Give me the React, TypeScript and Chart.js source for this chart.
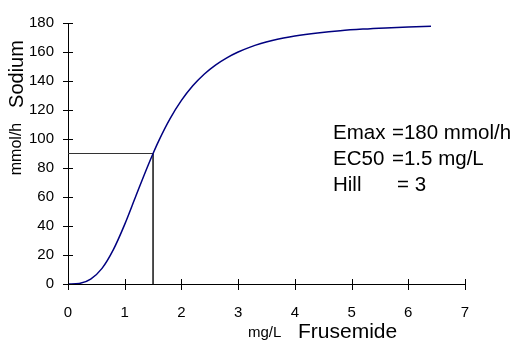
import React, { useEffect, useRef } from "react";
import { Chart, registerables } from "chart.js";

Chart.register(...registerables);

// Frusemide concentration (mg/L) and sodium excretion rate (mmol/h)
const concentration = [0, 0.2, 0.4, 0.6, 0.8, 1.0, 1.2, 1.4, 1.5, 1.6, 1.8, 2.0, 2.2, 2.4, 2.6, 2.8, 3.0, 3.2, 3.4, 3.6, 3.8, 4.0, 4.4, 4.8, 5.2, 5.6, 6.0, 6.4];
const sodiumRate = [0, 0.4, 3.4, 10.8, 23.7, 41.1, 61.0, 80.7, 90.0, 98.7, 114.0, 126.6, 136.7, 144.7, 151.0, 156.0, 160.0, 163.2, 165.8, 167.9, 169.6, 171.0, 173.1, 174.7, 175.8, 176.6, 177.2, 177.7];

// Half-maximal effect guide lines
const ec50 = 1.5;
const halfEffect = 90;

const xTicks = [0, 1, 2, 3, 4, 5, 6, 7];
const yTicks = [0, 20, 40, 60, 80, 100, 120, 140, 160, 180];

const paramLabels = ["Emax", "EC50", "Hill"];
const paramValues = ["=180 mmol/h", "=1.5 mg/L", "= 3"];

const FONT = "'Liberation Sans', Arial, sans-serif";

const decorPlugin = {
  id: "decor",
  afterDraw(chart: any) {
    const { ctx, scales } = chart;
    const xs = scales.x;
    const ys = scales.y;
    ctx.save();
    // crossing tick marks
    ctx.strokeStyle = "#000";
    ctx.lineWidth = 1;
    ctx.beginPath();
    for (const v of yTicks) {
      const py = Math.round(ys.getPixelForValue(v)) + 0.5;
      ctx.moveTo(xs.left - 5, py);
      ctx.lineTo(xs.left + 5, py);
    }
    for (const v of xTicks) {
      const px = Math.round(xs.getPixelForValue(v)) + 0.5;
      ctx.moveTo(px, ys.bottom - 5);
      ctx.lineTo(px, ys.bottom + 6);
    }
    ctx.stroke();

    ctx.fillStyle = "#000";
    // y axis title
    ctx.save();
    ctx.translate(17, 0);
    ctx.rotate(-Math.PI / 2);
    ctx.textBaseline = "middle";
    ctx.textAlign = "center";
    ctx.font = `20px ${FONT}`;
    ctx.fillText("Sodium", -74, 0);
    ctx.font = `16px ${FONT}`;
    ctx.fillText("mmol/h", -149, 0);
    ctx.restore();

    // x axis title
    ctx.textBaseline = "middle";
    ctx.textAlign = "left";
    ctx.font = `15px ${FONT}`;
    ctx.fillText("mg/L", 248, 333);
    ctx.font = `21px ${FONT}`;
    ctx.fillText("Frusemide", 298, 332);

    // model parameters
    ctx.font = `20.5px ${FONT}`;
    paramLabels.forEach((label, i) => {
      const y = 133 + i * 26;
      ctx.fillText(label, 333, y);
      ctx.fillText(paramValues[i], i === 2 ? 397 : 392, y);
    });
    ctx.restore();
  },
};

export default function App() {
  const canvasRef = useRef<HTMLCanvasElement | null>(null);

  useEffect(() => {
    if (!canvasRef.current) return;
    const chart = new Chart(canvasRef.current, {
      type: "line",
      data: {
        datasets: [
          {
            data: concentration.map((x, i) => ({ x, y: sodiumRate[i] })),
            borderColor: "#000080",
            borderWidth: 1.5,
            pointRadius: 0,
            cubicInterpolationMode: "monotone",
            fill: false,
          },
          {
            data: [
              { x: 0, y: halfEffect },
              { x: ec50, y: halfEffect },
              { x: ec50, y: 0 },
            ],
            borderColor: "#333",
            borderWidth: 1,
            pointRadius: 0,
            tension: 0,
            fill: false,
          },
        ],
      },
      options: {
        animation: false,
        responsive: false,
        events: [],
        layout: { padding: { top: 17, right: 62, left: 0, bottom: 0 } },
        plugins: { legend: { display: false }, tooltip: { enabled: false } },
        scales: {
          x: {
            type: "linear",
            min: 0,
            max: 7,
            afterFit: (s: any) => {
              s.height = 64;
            },
            afterBuildTicks: (s: any) => {
              s.ticks = xTicks.map((v) => ({ value: v }));
            },
            grid: { display: false, drawTicks: false },
            border: { display: true, color: "#000", width: 1 },
            ticks: { color: "#000", padding: 20, font: { family: FONT, size: 15 }, maxRotation: 0 },
          },
          y: {
            type: "linear",
            min: 0,
            max: 180,
            afterFit: (s: any) => {
              s.width = 68;
            },
            afterBuildTicks: (s: any) => {
              s.ticks = yTicks.map((v) => ({ value: v }));
            },
            grid: { display: false, drawTicks: false },
            border: { display: true, color: "#000", width: 1 },
            ticks: { color: "#000", padding: 14, font: { family: FONT, size: 15 } },
          },
        },
      },
      plugins: [decorPlugin],
    });
    return () => chart.destroy();
  }, []);

  return (
    <div style={{ position: "absolute", left: 0, top: 0, width: 527, height: 348, background: "#fff" }}>
      <canvas ref={canvasRef} width={527} height={348} />
    </div>
  );
}
